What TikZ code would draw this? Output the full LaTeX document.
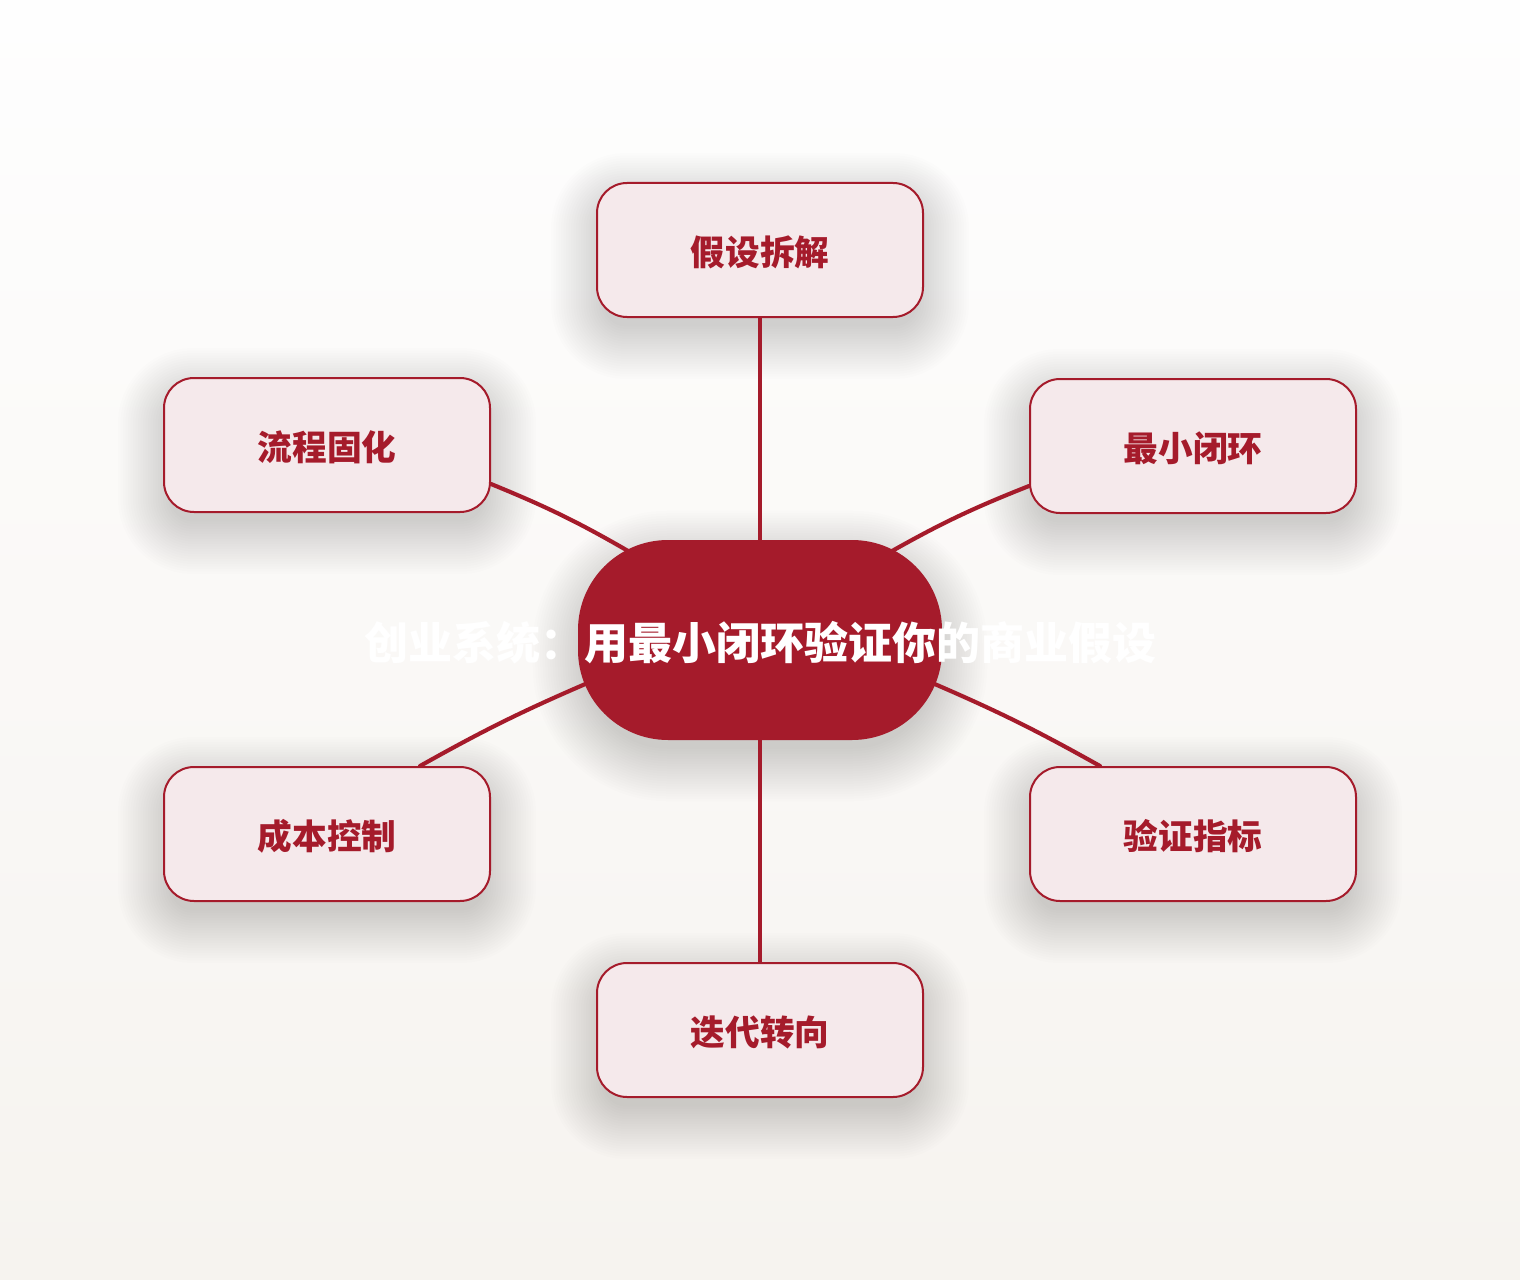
\documentclass[tikz,border=0pt]{standalone}
\usepackage{fontspec}
\newfontfamily\cjk{Noto Sans CJK SC}
\usetikzlibrary{calc}
\definecolor{crim}{HTML}{A51B2B}
\definecolor{boxfill}{HTML}{F5E9EB}
\definecolor{bgtop}{HTML}{FEFEFE}
\definecolor{bgbot}{HTML}{F6F3EF}
\pgfdeclarelayer{bg}
\pgfdeclarelayer{shadow}
\pgfdeclarelayer{edges}
\pgfsetlayers{bg,shadow,edges,main}
\newcommand{\lowtext}[1]{\raisebox{-1.8pt}[\height][\depth]{#1}}
\begin{document}
\begin{tikzpicture}[x=0.75pt,y=-0.75pt,
  box/.style={draw=crim,line width=1.5pt,fill=boxfill,rounded corners=22.5pt,
    minimum width=244.5pt,minimum height=100.5pt,inner sep=0pt,
    font=\cjk\bfseries\fontsize{26}{30}\selectfont,text=crim},
  hub/.style={fill=crim,rounded corners=67.5pt,minimum width=273pt,
    minimum height=150pt,inner sep=0pt,
    font=\cjk\bfseries\fontsize{33}{38}\selectfont,text=white},
  link/.style={draw=crim,line width=3.1pt,line cap=round},
  softshade/.style={black,opacity=0.0085}]
\useasboundingbox (0,0) rectangle (1520,1280);
\begin{pgfonlayer}{bg}
  \shade[top color=bgtop,bottom color=bgbot] (0,0) rectangle (1520,1280);
\end{pgfonlayer}

\node[hub] (c) at (760,640) {\makebox[0pt]{\lowtext{创业系统：用最小闭环验证你的商业假设}}};
\node[box] (t)  at (760,250)  {\lowtext{假设拆解}};
\node[box] (lu) at (327,445)  {\lowtext{流程固化}};
\node[box] (ru) at (1193,446) {\lowtext{最小闭环}};
\node[box] (ld) at (327,834)  {\lowtext{成本控制}};
\node[box] (rd) at (1193,834) {\lowtext{验证指标}};
\node[box] (b)  at (760,1030) {\lowtext{迭代转向}};

\begin{pgfonlayer}{shadow}
  \foreach \n in {t,lu,ru,ld,rd,b}{
    \foreach \i [evaluate=\i as \e using 2.5*\i-10,
                 evaluate=\i as \r using 22.5+0.75*(2.5*\i-10)] in {1,...,22}{
      \fill[softshade,rounded corners=\r pt]
        ($(\n.south west)+(-\e,\e+16)$) rectangle ($(\n.north east)+(\e,-\e+16)$);
    }
  }
  \foreach \i [evaluate=\i as \e using 2.5*\i-10,
               evaluate=\i as \r using 67.5+0.75*(2.5*\i-10)] in {1,...,22}{
    \fill[softshade,rounded corners=\r pt]
      ($(c.south west)+(-\e,\e+16)$) rectangle ($(c.north east)+(\e,-\e+16)$);
  }
\end{pgfonlayer}

\begin{pgfonlayer}{edges}
  \draw[link] (t) -- (c.center);
  \draw[link] (c.center) -- (b);
  \draw[link] ([yshift=-29.25pt]lu.east) to[bend left=4] ($(c.center)+(-125,-85)$);
  \draw[link] ([yshift=-30pt]ru.west) to[bend right=4] ($(c.center)+(125,-85)$);
  \draw[link] ([xshift=69.75pt]ld.north) to[bend left=3] ($(c.center)+(-170,42)$);
  \draw[link] ([xshift=-69.75pt]rd.north) to[bend right=3] ($(c.center)+(170,42)$);
\end{pgfonlayer}
\end{tikzpicture}
\end{document}
